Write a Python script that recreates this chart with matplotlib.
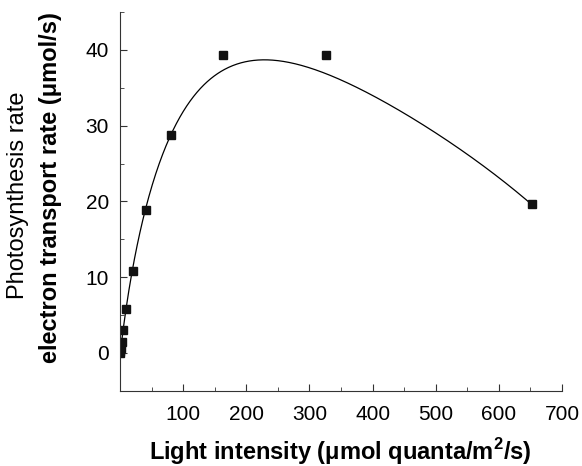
import numpy as np
import matplotlib
matplotlib.use("Agg")
import matplotlib.pyplot as plt
from matplotlib.ticker import MultipleLocator

plt.rcParams['font.family'] = ['Liberation Sans', 'DejaVu Sans']

# measured points (light intensity, rate)
light = [0.32, 0.64, 1.27, 2.55, 5.1, 10.2, 20.4, 40.75, 81.5, 163, 326, 652]
rate = [0.0, 0.3, 0.7, 1.4, 3.0, 5.8, 10.8, 18.9, 28.8, 39.4, 39.4, 19.7]

# fitted curve, used to recover a smooth fit
curve_x = [0, 5, 10, 20, 40, 53, 79, 106, 158, 237, 316, 348, 380, 506, 585, 653]
curve_y = [0, 3.0, 5.8, 10.8, 19.1, 23.7, 28.5, 32.0, 36.7, 38.8, 37.4, 36.2,
           35.0, 28.5, 23.9, 19.7]

# least-squares polynomial in sqrt(light)
coef = np.polyfit(np.sqrt(curve_x), curve_y, 5)

xs = np.linspace(0, 652, 600)
ys = np.polyval(coef, np.sqrt(xs))

fig = plt.figure(figsize=(5.82, 4.66), dpi=100)
ax = fig.add_axes([0.2062, 0.1616, 0.7594, 0.8124])
ax.plot(xs, ys, color='black', lw=0.9)
ax.plot(light, rate, 's', color='#111111', ms=6)

ax.set_xlim(0, 700)
ax.set_ylim(-5, 45)
ax.xaxis.set_minor_locator(MultipleLocator(50))
ax.yaxis.set_minor_locator(MultipleLocator(5))
ax.set_xticks([100, 200, 300, 400, 500, 600, 700])
ax.set_yticks([0, 10, 20, 30, 40])
ax.tick_params(which='both', direction='in', labelsize=15, color='#333333')
ax.tick_params(which='major', length=5)
ax.tick_params(which='minor', length=3)
ax.tick_params(axis='x', pad=10)
ax.tick_params(axis='y', pad=8)
for s in ['top', 'right']:
    ax.spines[s].set_visible(False)
for s in ['left', 'bottom']:
    ax.spines[s].set_color('#333333')

fig.text(0.584, 0.032, 'Light intensity (μmol quanta/m$^\\mathregular{2}$/s)',
         ha='center', va='center', fontsize=17, fontweight='bold')
fig.text(0.031, 0.582, 'Photosynthesis rate', rotation=90,
         ha='center', va='center', fontsize=17)
fig.text(0.086, 0.597, 'electron transport rate (μmol/s)', rotation=90,
         ha='center', va='center', fontsize=17, fontweight='bold')

fig.savefig('out.png', dpi=100)
